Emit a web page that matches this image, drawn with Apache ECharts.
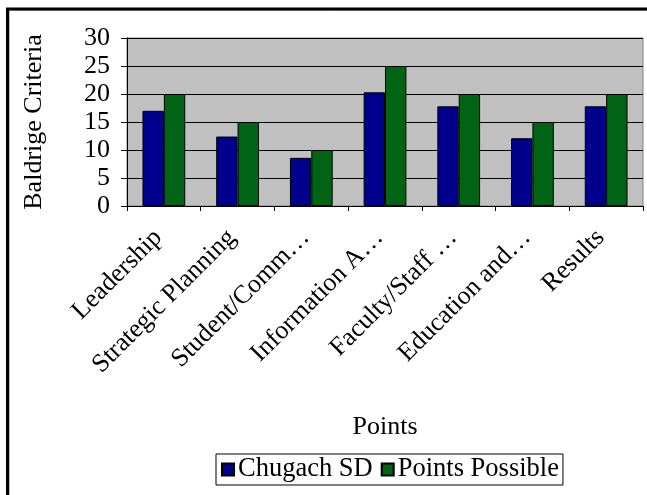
<!DOCTYPE html>
<html>
<head>
<meta charset="utf-8">
<script src="https://cdn.jsdelivr.net/npm/echarts@6/dist/echarts.min.js"></script>
<style>
  html, body { margin: 0; padding: 0; background: #fff; }
  #chart { width: 647px; height: 495px; }
</style>
</head>
<body>
<div id="chart"></div>
<script>
// Baldrige criteria: district score vs. points possible
const categories = ['Leadership', 'Strategic Planning', 'Student/Comm…', 'Information A…', 'Faculty/Staff …', 'Education and…', 'Results'];
const chugachSD = [17, 12.4, 8.6, 20.3, 17.8, 12.1, 17.8];
const pointsPossible = [20, 15, 10, 25, 20, 15, 20];
const yTicks = { min: 0, max: 30, interval: 5 };

const serif = "'Liberation Serif', 'Times New Roman', serif";
const chart = echarts.init(document.getElementById('chart'), null, { renderer: 'canvas' });

chart.setOption({
  animation: false,
  backgroundColor: '#ffffff',
  textStyle: { fontFamily: serif, color: '#000' },
  grid: {
    left: 127, right: 4, top: 38, bottom: 289,
    show: true, backgroundColor: '#c0c0c0', borderColor: '#808080', borderWidth: 1
  },
  legend: {
    left: 216, top: 454,
    orient: 'horizontal',
    icon: 'rect',
    itemWidth: 12, itemHeight: 12, itemGap: 8,
    borderColor: '#000', borderWidth: 1,
    padding: [2, 4, 2, 5],
    textStyle: { fontFamily: serif, fontSize: 26.5, color: '#000', padding: [0, 0, 0, -1] },
    data: ['Chugach SD', 'Points Possible']
  },
  xAxis: {
    type: 'category',
    data: categories,
    name: 'Points',
    nameLocation: 'middle',
    nameGap: 208,
    nameTextStyle: { fontFamily: serif, fontSize: 26, color: '#000' },
    axisLine: { lineStyle: { color: '#000', width: 1 } },
    axisTick: { show: true, length: 5, lineStyle: { color: '#000' } },
    axisLabel: { interval: 0, rotate: 45, margin: 22, padding: [0, 8, 0, 0], fontFamily: serif, fontSize: 26, color: '#000' },
    splitLine: { show: false }
  },
  yAxis: {
    type: 'value',
    min: yTicks.min, max: yTicks.max, interval: yTicks.interval,
    name: 'Baldrige Criteria',
    nameLocation: 'middle',
    nameGap: 80,
    nameTextStyle: { fontFamily: serif, fontSize: 26, color: '#000' },
    axisLine: { show: true, lineStyle: { color: '#000', width: 1 } },
    axisTick: { show: true, length: 6, lineStyle: { color: '#000' } },
    axisLabel: { margin: 17, fontFamily: serif, fontSize: 26, color: '#000' },
    splitLine: { show: true, lineStyle: { color: '#000', width: 1 } }
  },
  series: [
    {
      name: 'Chugach SD', type: 'bar', data: chugachSD,
      barGap: '0%', barCategoryGap: '42%',
      itemStyle: { color: '#00008c', borderColor: '#000', borderWidth: 1 }
    },
    {
      name: 'Points Possible', type: 'bar', data: pointsPossible,
      barGap: '0%', barCategoryGap: '42%',
      itemStyle: { color: '#006414', borderColor: '#000', borderWidth: 1 }
    }
  ],
  graphic: [
    // outer frame (top and left edges)
    { type: 'rect', shape: { x: 9, y: 10, width: 640, height: 490 }, style: { fill: 'none', stroke: '#808080', lineWidth: 1 }, silent: true },
    { type: 'rect', shape: { x: 7.5, y: 9, width: 642, height: 490 }, style: { fill: 'none', stroke: '#000', lineWidth: 3 }, silent: true }
  ]
});
</script>
</body>
</html>
